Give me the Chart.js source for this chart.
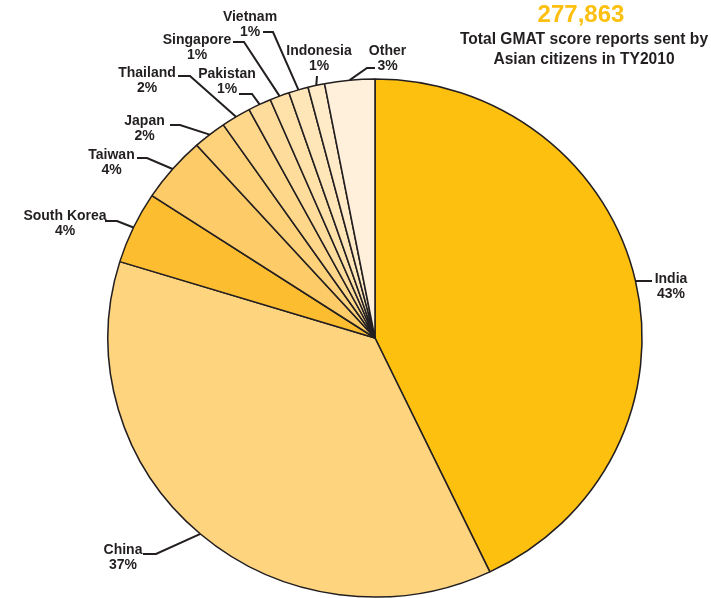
<!DOCTYPE html>
<html>
<head>
<meta charset="utf-8">
<script src="https://cdn.jsdelivr.net/npm/chart.js@4.4.1/dist/chart.umd.min.js"></script>
<style>
  html, body { margin: 0; padding: 0; background: #ffffff; }
  #wrap { position: relative; width: 711px; height: 598px; }
</style>
</head>
<body>
<div id="wrap"><canvas id="c" width="711" height="598"></canvas></div>
<script>
// ---- data ----
const categories = ['India', 'China', 'South Korea', 'Taiwan', 'Japan', 'Thailand', 'Pakistan', 'Singapore', 'Vietnam', 'Indonesia', 'Other'];
const reports = [119200, 102300, 12500, 11400, 5600, 5000, 3900, 3300, 3300, 2800, 8400];
const shareLabels = ['43%', '37%', '4%', '4%', '2%', '2%', '1%', '1%', '1%', '1%', '3%'];
const totalLabel = '277,863';
const titleLines = ['Total GMAT score reports sent by', 'Asian citizens in TY2010'];

// ---- styles / layout ----
const sliceColors = ['#FEC00E', '#FED47F', '#FCBE30', '#FDCB68', '#FDD27B', '#FED78A', '#FEDC9B', '#FFE1AA', '#FFE6B9', '#FFEBC7', '#FFF0DC'];
const ink = '#231F20';
const stretchX = 1.031;
// label text centre x, first baseline y, leader points from label toward slice
const labelLayout = [
  { tx: 671, ty: 283, pts: [[652, 281]] },
  { tx: 123, ty: 554, pts: [[143, 554], [156, 554]] },
  { tx: 65, ty: 220, pts: [[105, 221], [117, 221]] },
  { tx: 111.5, ty: 159, pts: [[137, 158], [147, 158]] },
  { tx: 144.5, ty: 124.5, pts: [[170, 125], [180, 125]] },
  { tx: 147, ty: 77, pts: [[178, 76], [190, 76]] },
  { tx: 227, ty: 78, pts: [[239, 94], [252, 94]] },
  { tx: 197, ty: 43.5, pts: [[233, 42], [244, 42]] },
  { tx: 250, ty: 21, pts: [[263, 32], [273, 32]] },
  { tx: 319, ty: 55, pts: [[317, 76]] },
  { tx: 387.5, ty: 55, pts: [[375, 68], [367, 68]] }
];

const stretchPlugin = {
  id: 'stretch',
  beforeDatasetsDraw(chart) {
    const arc = chart.getDatasetMeta(0).data[0];
    const ctx = chart.ctx;
    ctx.save();
    ctx.translate(arc.x, arc.y);
    ctx.scale(stretchX, 1);
    ctx.translate(-arc.x, -arc.y);
  },
  afterDatasetsDraw(chart) {
    chart.ctx.restore();
  }
};

const labelPlugin = {
  id: 'labels',
  afterDraw(chart) {
    const ctx = chart.ctx;
    const meta = chart.getDatasetMeta(0);
    ctx.save();
    ctx.strokeStyle = ink;
    ctx.lineWidth = 2;
    ctx.lineJoin = 'miter';
    ctx.fillStyle = ink;
    ctx.textAlign = 'center';
    ctx.textBaseline = 'alphabetic';
    ctx.font = 'bold 14px "Liberation Sans", Arial, Helvetica, sans-serif';
    meta.data.forEach((arc, i) => {
      const p = arc.getProps(['x', 'y', 'startAngle', 'endAngle', 'outerRadius'], true);
      const mid = (p.startAngle + p.endAngle) / 2;
      const ax = p.x + Math.cos(mid) * p.outerRadius * stretchX;
      const ay = p.y + Math.sin(mid) * p.outerRadius;
      const L = labelLayout[i];
      ctx.beginPath();
      ctx.moveTo(L.pts[0][0], L.pts[0][1]);
      for (let k = 1; k < L.pts.length; k++) ctx.lineTo(L.pts[k][0], L.pts[k][1]);
      ctx.lineTo(ax, ay);
      ctx.stroke();
      ctx.fillText(categories[i], L.tx, L.ty);
      ctx.fillText(shareLabels[i], L.tx, L.ty + 15);
    });
    // title block
    ctx.fillStyle = '#FDC010';
    ctx.font = 'bold 24px "Liberation Sans", Arial, Helvetica, sans-serif';
    ctx.fillText(totalLabel, 581, 22);
    ctx.fillStyle = ink;
    ctx.font = 'bold 15.6px "Liberation Sans", Arial, Helvetica, sans-serif';
    ctx.fillText(titleLines[0], 584, 44);
    ctx.fillText(titleLines[1], 584, 63.5);
    ctx.restore();
  }
};

new Chart(document.getElementById('c'), {
  type: 'pie',
  data: {
    labels: categories,
    datasets: [{
      data: reports,
      backgroundColor: sliceColors,
      borderColor: ink,
      borderWidth: 1.5,
      hoverOffset: 0
    }]
  },
  options: {
    responsive: false,
    animation: false,
    events: [],
    radius: 259,
    layout: { padding: { left: 116, right: 77, top: 79, bottom: 1 } },
    plugins: {
      legend: { display: false },
      tooltip: { enabled: false },
      title: { display: false }
    }
  },
  plugins: [stretchPlugin, labelPlugin]
});
</script>
</body>
</html>
